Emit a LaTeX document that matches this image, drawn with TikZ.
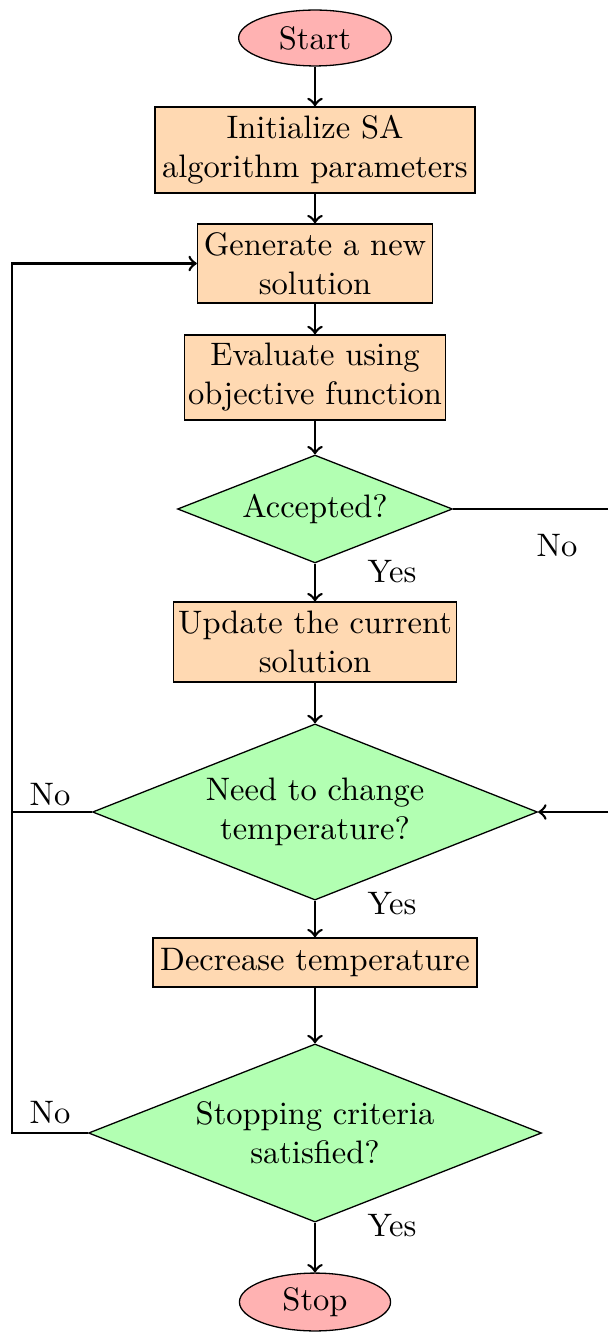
\documentclass[tikz,border=0pt]{standalone}
\usetikzlibrary{shapes.geometric}
\begin{document}
\begin{tikzpicture}[x=0.3077pt,y=-0.3077pt,
  term/.style={ellipse,draw,fill=red!30,inner sep=1pt},
  proc/.style={rectangle,draw,fill=orange!30,align=center,inner sep=1pt},
  decide/.style={diamond,draw,fill=green!30,align=center,aspect=2.5,inner sep=0pt},
  flow/.style={thick,->},
  lbl/.style={inner sep=0pt}]
\useasboundingbox (0,0) rectangle (608,1333);
% main column of steps
\node[term,minimum width=47pt,minimum height=17.2pt] (start) at (315,38) {Start};
\node[proc,minimum width=98.5pt,minimum height=26.5pt] (init) at (315,150) {Initialize SA\\algorithm parameters};
\node[proc,minimum width=72.3pt,minimum height=24.3pt] (gen) at (315,263.5) {Generate a new\\solution};
\node[proc,minimum width=80.3pt,minimum height=26.2pt] (eval) at (315,377.5) {Evaluate using\\objective function};
\node[decide,minimum width=84.6pt,minimum height=33.2pt] (acc) at (315,509) {Accepted?};
\node[proc,minimum width=87.1pt,minimum height=24.6pt] (upd) at (315,642) {Update the current\\solution};
\node[decide,minimum width=136.9pt,minimum height=54.2pt] (need) at (315,812) {Need to change\\temperature?};
\node[proc,minimum width=99.7pt,minimum height=15.1pt] (dec) at (315,962.5) {Decrease temperature};
\node[decide,minimum width=139.4pt,minimum height=54.8pt] (crit) at (315,1133) {Stopping criteria\\satisfied?};
\node[term,minimum width=46.5pt,minimum height=17.8pt] (stop) at (315,1302) {Stop};

% branch labels
\node[lbl] (yes1) at (392,572) {Yes};
\node[lbl] (no1) at (557,546) {No};
\node[lbl] (yes2) at (392,904) {Yes};
\node[lbl] (no2) at (50,795) {No};
\node[lbl] (yes3) at (392,1226) {Yes};
\node[lbl] (no3) at (50,1113) {No};

% routing points at the margins
\coordinate (accR) at (608,509);
\coordinate (needR) at (608,812);
\coordinate (loopA) at (12,812);
\coordinate (loopB) at (12,1133);

% connectors
\draw[flow] (start) -- (init);
\draw[flow] (init) -- (gen);
\draw[flow] (gen) -- (eval);
\draw[flow] (eval) -- (acc);
\draw[flow] (acc) -- (upd);
\draw (acc.east) -- (accR);
\draw[flow] (upd) -- (need);
\draw[flow] (needR) -- (need.east);
\draw[flow] (need.west) -- (loopA) |- (gen.west);
\draw[flow] (need) -- (dec);
\draw[flow] (dec) -- (crit);
\draw (crit.west) -- (loopB) -- (loopA);
\draw[flow] (crit) -- (stop);
\end{tikzpicture}
\end{document}
